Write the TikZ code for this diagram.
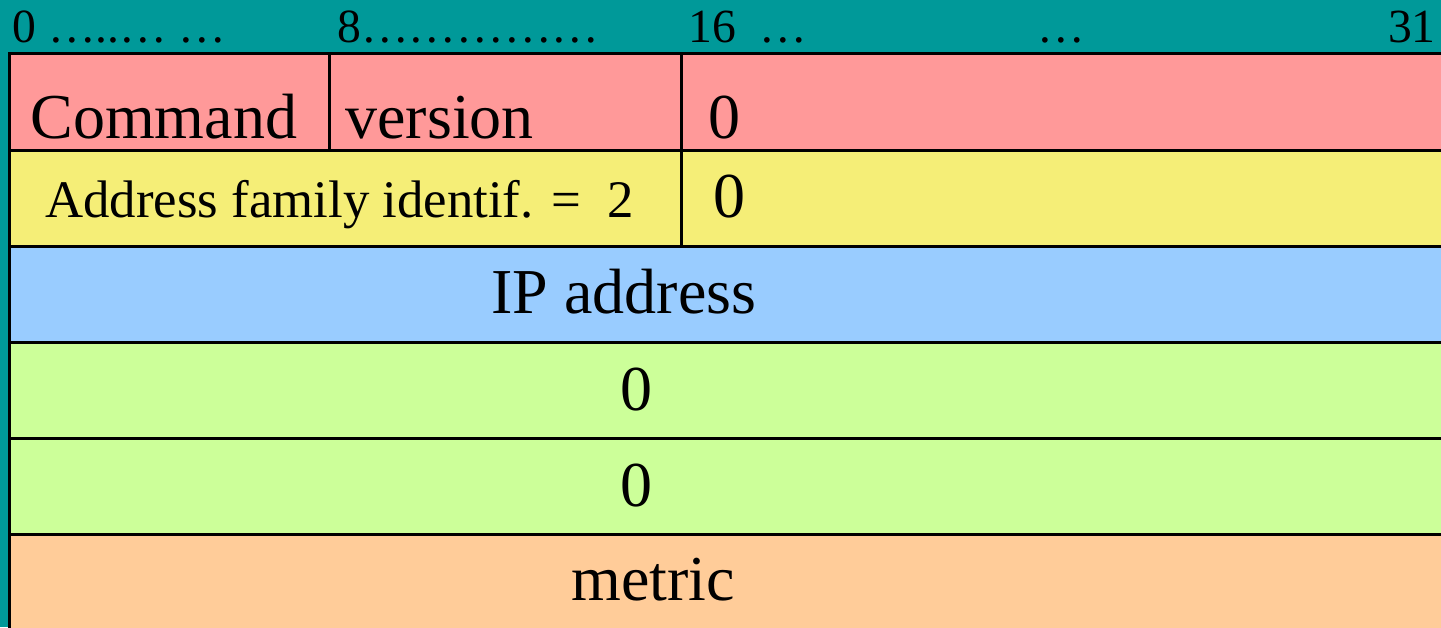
\documentclass[tikz,border=0pt]{standalone}
\usepackage{fontspec}
\setmainfont{Liberation Serif}
\definecolor{tealbg}{HTML}{009999}
\definecolor{pinkrow}{HTML}{FF9999}
\definecolor{yellowrow}{HTML}{F5EE77}
\definecolor{bluerow}{HTML}{99CCFF}
\definecolor{greenrow}{HTML}{CCFF99}
\definecolor{orangerow}{HTML}{FFCC99}
\tikzset{
  field/.style={draw=black,line width=1.5pt},
  bigtxt/.style={font=\fontsize{32}{36}\selectfont,inner sep=0pt},
  smalltxt/.style={font=\fontsize{26.4}{30}\selectfont,inner sep=0pt},
  bitstxt/.style={font=\fontsize{23.8}{27}\selectfont,inner sep=0pt}
}
\begin{document}
\begin{tikzpicture}[x=0.5pt,y=-0.5pt]
\fill[tealbg] (0,0) rectangle (1441,627);
\clip (0,0) rectangle (1441,627);

% bit numbers
\node[bitstxt,anchor=base west] (b0) at (12,42) {0 …..… …};
\node[bitstxt,anchor=base west] (b8) at (337,42) {8……………};
\node[bitstxt,anchor=base west] (b16) at (688,42) {16\ \ …};
\node[bitstxt,anchor=base west] (b24) at (1037,42) {…};
\node[bitstxt,anchor=base east] (b31) at (1436,42) {31};

% rows
\draw[field,fill=pinkrow] (9,53) rectangle (1460,150);
\draw[field,fill=yellowrow] (9,150) rectangle (1460,246);
\draw[field,fill=bluerow] (9,246) rectangle (1460,342);
\draw[field,fill=greenrow] (9,342) rectangle (1460,438);
\draw[field,fill=greenrow] (9,438) rectangle (1460,534);
\draw[field,fill=orangerow] (9,534) rectangle (1460,660);
\draw[field] (329,53) -- (329,150);
\draw[field] (681,53) -- (681,246);

\node[bigtxt,anchor=base west] (cmd) at (30,138) {Command};
\node[bigtxt,anchor=base west] (ver) at (345,138) {version};
\node[bigtxt,anchor=base west] (z1) at (708,138) {0};
\node[smalltxt,anchor=base west] (afi) at (45,217) {Address family identif. =\ \ 2};
\node[bigtxt,anchor=base west] (z2) at (713,217) {0};
\node[bigtxt,anchor=base] (ip) at (624,313) {IP address};
\node[bigtxt,anchor=base] (z3) at (636,410) {0};
\node[bigtxt,anchor=base] (z4) at (636,506) {0};
\node[bigtxt,anchor=base] (met) at (653,600) {metric};
\end{tikzpicture}
\end{document}
